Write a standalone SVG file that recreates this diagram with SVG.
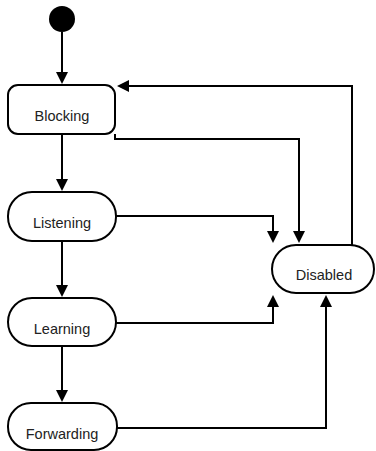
<svg xmlns="http://www.w3.org/2000/svg" width="376" height="451" viewBox="0 0 376 451">
  <style>
    .state { fill: #ffffff; stroke: #000000; stroke-width: 2; }
    .label { font-family: "Liberation Sans", Arial, sans-serif; font-size: 14.5px; fill: #222222; text-anchor: middle; }
    .edge { fill: none; stroke: #000000; stroke-width: 2; marker-end: url(#arrow); }
  </style>
  <defs>
    <marker id="arrow" markerWidth="12" markerHeight="12" refX="6" refY="6" orient="auto" markerUnits="userSpaceOnUse">
      <path d="M0,0 L12,6 L0,12 z" fill="#000000"/>
    </marker>
  </defs>
  <rect width="376" height="451" fill="#ffffff"/>

  <g id="connectors">
    <path class="edge" d="M62,32 V78"/>
    <path class="edge" d="M62,134 V185"/>
    <path class="edge" d="M62,241 V291"/>
    <path class="edge" d="M62,346 V396"/>
    <path class="edge" d="M115,134 V139 H299 V237"/>
    <path class="edge" d="M116,216 H273 V237"/>
    <path class="edge" d="M116,323 H273 V301"/>
    <path class="edge" d="M117,428 H326 V301"/>
    <path class="edge" d="M352,245 V86 H123"/>
  </g>

  <g id="initial">
    <circle cx="62" cy="19" r="13" fill="#000000"/>
  </g>

  <g id="blocking">
    <rect class="state" x="8" y="85" width="107" height="49" rx="10" ry="10"/>
    <text class="label" x="62" y="121">Blocking</text>
  </g>

  <g id="listening">
    <rect class="state" x="8" y="192" width="108" height="49" rx="24" ry="24"/>
    <text class="label" x="62" y="228">Listening</text>
  </g>

  <g id="learning">
    <rect class="state" x="8" y="298" width="108" height="48" rx="24" ry="24"/>
    <text class="label" x="62" y="334">Learning</text>
  </g>

  <g id="forwarding">
    <rect class="state" x="8" y="403" width="109" height="47" rx="23" ry="23"/>
    <text class="label" x="62" y="439">Forwarding</text>
  </g>

  <g id="disabled">
    <rect class="state" x="272" y="245" width="102" height="48" rx="24" ry="24"/>
    <text class="label" x="324" y="280">Disabled</text>
  </g>
</svg>
